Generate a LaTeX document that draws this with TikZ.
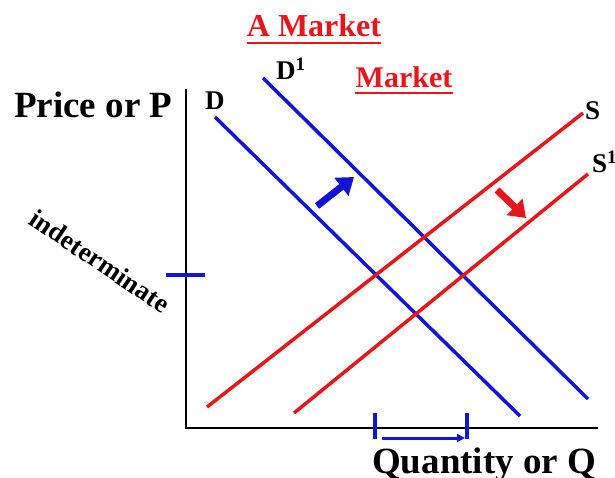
\documentclass[tikz,border=0pt]{standalone}
\usepackage{fontspec}
\setmainfont{Liberation Serif}
\usetikzlibrary{arrows.meta,positioning}
\definecolor{demc}{HTML}{1414D4}
\definecolor{supc}{HTML}{E3171C}
\tikzset{
  dcurve/.style={demc,line width=3.5pt},
  scurve/.style={supc,line width=3.5pt},
  axis/.style={black,line width=2.8pt},
  lbl/.style={font=\bfseries\fontsize{27}{27}\selectfont,inner sep=0pt},
  big/.style={font=\bfseries\fontsize{37}{37}\selectfont,inner sep=0pt},
  ttl/.style={supc,font=\bfseries\fontsize{32}{32}\selectfont,inner sep=0pt},
  uline/.style={supc,line width=2.4pt},
  shiftar/.style={line width=7pt,-{Triangle[length=16pt,width=22pt]}},
  tick/.style={demc,line width=3.5pt}
}
\begin{document}
\begin{tikzpicture}[x=1pt,y=-1pt]
\useasboundingbox (0,0) rectangle (615,478);
% axes
\coordinate (ytop) at (186,89);
\coordinate (O) at (186,428);
\coordinate (xend) at (598,428);
\draw[axis] (ytop)--(O)--(xend);
\node[big,anchor=base west] (plab) at (14,118) {Price or P};
\node[big,anchor=base west] (qlab) at (372,473) {Quantity or Q};
% titles
\node[ttl,anchor=base] (title) at (314,37) {A Market};
\draw[uline] ([yshift=-6pt]title.base west)--([yshift=-6pt]title.base east);
\node[ttl,font=\bfseries\fontsize{30}{30}\selectfont,anchor=base] (mkt) at (404,88) {Market};
\draw[uline] ([yshift=-5pt]mkt.base west)--([yshift=-5pt]mkt.base east);
% demand
\coordinate (d0) at (215,117); \coordinate (d1) at (520,416);
\coordinate (e0) at (263,78);  \coordinate (e1) at (588,399);
\draw[dcurve] (d0)--(d1);
\draw[dcurve] (e0)--(e1);
\node[lbl,anchor=base west] (dl) at (205,110) {D};
\node[lbl,anchor=base west] (el) at (276,80) {D$^{\mathbf{1}}$};
% supply
\coordinate (s0) at (207,407); \coordinate (s1) at (583,113);
\coordinate (t0) at (294,413); \coordinate (t1) at (588,174);
\draw[scurve] (s0)--(s1);
\draw[scurve] (t0)--(t1);
\node[lbl,anchor=base west] (sl) at (585,120) {S};
\node[lbl,anchor=base west] (tl) at (592,173) {S$^{\mathbf{1}}$};
% shift arrows
\coordinate (ua) at (317,206); \coordinate (ub) at (354,177);
\draw[shiftar,demc] (ua)--(ub);
\coordinate (ra) at (497,190); \coordinate (rb) at (526,218);
\draw[shiftar,supc] (ra)--(rb);
% price tick
\coordinate (pa) at (166,275); \coordinate (pb) at (205,275);
\draw[tick] (pa)--(pb);
\node[lbl,font=\bfseries\fontsize{27}{27}\selectfont,rotate=-34] (ind) at (100,261) {indeterminate};
% quantity range
\coordinate (q1a) at (375,413); \coordinate (q1b) at (375,439);
\coordinate (q2a) at (467,413); \coordinate (q2b) at (467,439);
\draw[tick] (q1a)--(q1b);
\draw[tick] (q2a)--(q2b);
\coordinate (qa) at (382,438); \coordinate (qb) at (465,438);
\draw[demc,line width=3pt,-{Triangle[length=8pt,width=8pt]}] (qa)--(qb);
\end{tikzpicture}
\end{document}
